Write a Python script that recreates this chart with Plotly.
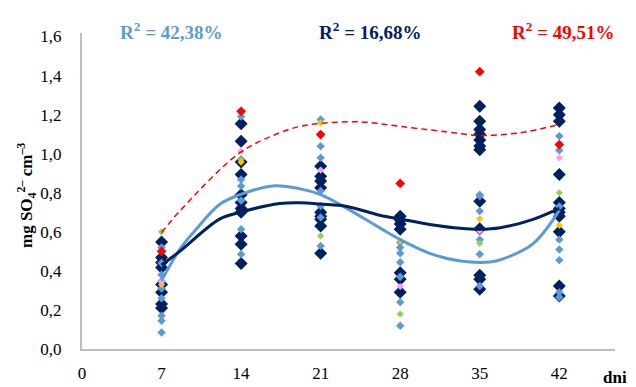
import plotly.graph_objects as go

# ---------------- data ----------------
navy_days = [7]*8 + [14]*11 + [21]*9 + [28]*7 + [35]*12 + [42]*11
navy_vals = [0.548, 0.468, 0.443, 0.417, 0.33, 0.29, 0.23, 0.21,
             1.153, 1.064, 0.957, 0.894, 0.79, 0.75, 0.72, 0.70, 0.579, 0.536, 0.438,
             0.936, 0.885, 0.86, 0.826, 0.70, 0.68, 0.664, 0.63, 0.49,
             0.68, 0.66, 0.64, 0.613, 0.39, 0.357, 0.29,
             1.243, 1.166, 1.124, 1.10, 1.07, 1.04, 1.02, 0.757, 0.616, 0.378, 0.357, 0.306,
             1.234, 1.20, 1.166, 0.894, 0.75, 0.72, 0.70, 0.68, 0.60, 0.323, 0.272]

lblue_days = [7]*9 + [14]*6 + [21]*7 + [28]*7 + [35]*6 + [42]*8
lblue_vals = [0.52, 0.44, 0.38, 0.347, 0.31, 0.26, 0.17, 0.145, 0.085,
              1.19, 0.868, 0.834, 0.76, 0.613, 0.485,
              1.175, 1.038, 0.979, 0.809, 0.732, 0.674, 0.528,
              0.546, 0.52, 0.49, 0.444, 0.37, 0.24, 0.119,
              0.79, 0.783, 0.706, 0.56, 0.485, 0.323,
              1.09, 1.018, 0.73, 0.56, 0.51, 0.455, 0.29, 0.265]

sample_days = [7, 14, 21, 28, 35, 42]
red_vals = [0.50, 1.217, 1.098, 0.848, 1.42, 1.047]
pink_vals = [0.345, 1.013, 0.916, 0.32, 0.604, 0.979]
green_vals = [0.60, 0.97, 0.579, 0.179, 0.541, 0.80]
orange_vals = [0.33, 0.957, 1.158, 0.553, 0.667, 0.633]

# trend curves
lb_trend_x = [7, 8.6, 10, 12.1, 13.9, 16.8, 19.2, 21, 23.3, 26.2, 28, 30.6, 33.3, 35.9, 37, 39.7, 42]
lb_trend_y = [0.35, 0.51, 0.61, 0.74, 0.79, 0.835, 0.82, 0.79, 0.72, 0.62, 0.56, 0.49, 0.45, 0.445, 0.46, 0.54, 0.71]
nv_trend_x = [7, 8.6, 12.1, 13.9, 17.4, 19.2, 21, 23.3, 26.2, 28, 30.6, 33.3, 35, 36.8, 39.7, 42]
nv_trend_y = [0.43, 0.50, 0.665, 0.70, 0.745, 0.749, 0.742, 0.73, 0.685, 0.665, 0.638, 0.618, 0.613, 0.621, 0.664, 0.72]
rd_trend_x = [7, 8.6, 13.9, 17.4, 19.2, 21, 24.5, 28, 33.3, 35, 38.5, 42]
rd_trend_y = [0.596, 0.706, 1.005, 1.107, 1.14, 1.155, 1.163, 1.14, 1.103, 1.093, 1.107, 1.15]

r2_texts = ["R<sup>2</sup> = 42,38%", "R<sup>2</sup> = 16,68%", "R<sup>2</sup> = 49,51%"]
x_ticks = [0, 7, 14, 21, 28, 35, 42]
y_ticks = [0.0, 0.2, 0.4, 0.6, 0.8, 1.0, 1.2, 1.4, 1.6]
y_tick_labels = ["0,0", "0,2", "0,4", "0,6", "0,8", "1,0", "1,2", "1,4", "1,6"]

NAVY = "#002060"
LBLUE = "#5B9BD5"
RED = "#FF0000"
PINK = "#FF99FF"
GREEN = "#92D050"
ORANGE = "#FFC000"
FONT = "Liberation Serif, Times New Roman, DejaVu Serif, serif"

fig = go.Figure()
fig.add_trace(go.Scatter(x=navy_days, y=navy_vals, mode="markers",
                         marker=dict(symbol="diamond", size=10, color=NAVY), showlegend=False))
fig.add_trace(go.Scatter(x=lblue_days, y=lblue_vals, mode="markers",
                         marker=dict(symbol="diamond", size=6.5, color=LBLUE), showlegend=False))
for vals, col, sz in [(green_vals, GREEN, 5.5), (orange_vals, ORANGE, 5.5),
                      (pink_vals, PINK, 5.5), (red_vals, RED, 7.5)]:
    fig.add_trace(go.Scatter(x=sample_days, y=vals, mode="markers",
                             marker=dict(symbol="diamond", size=sz, color=col), showlegend=False))

fig.add_trace(go.Scatter(x=lb_trend_x, y=lb_trend_y, mode="lines",
                         line=dict(color=LBLUE, width=3, shape="spline"), showlegend=False))
fig.add_trace(go.Scatter(x=nv_trend_x, y=nv_trend_y, mode="lines",
                         line=dict(color=NAVY, width=3, shape="spline"), showlegend=False))
fig.add_trace(go.Scatter(x=rd_trend_x, y=rd_trend_y, mode="lines",
                         line=dict(color=RED, width=1.5, dash="6px,4px", shape="spline"), showlegend=False))

L, R, T, B = 82, 21, 33, 38
W, H = 636, 387
pw = W - L - R
ph = H - T - B

fig.update_layout(
    width=W, height=H,
    margin=dict(l=L, r=R, t=T, b=B, autoexpand=False),
    paper_bgcolor="white", plot_bgcolor="white",
    font=dict(family=FONT, size=17, color="black"),
    xaxis=dict(range=[0, 46.9], tickvals=x_ticks, ticktext=[str(t) for t in x_ticks],
               showgrid=False, zeroline=False, showline=True, linecolor="#BFBFBF", linewidth=2,
               ticks="outside", ticklen=8, tickcolor="rgba(0,0,0,0)", automargin=False,
               tickfont=dict(family=FONT, size=17, color="black")),
    yaxis=dict(range=[0, 1.618], tickvals=y_ticks, ticktext=y_tick_labels,
               showgrid=False, zeroline=False, showline=True, linecolor="#BFBFBF", linewidth=2,
               ticks="outside", ticklen=15, tickcolor="rgba(0,0,0,0)", automargin=False,
               tickfont=dict(family=FONT, size=17, color="black")),
)


def px_x(px):
    return (px - L) / pw


def px_y(py):
    return ((H - B) - py) / ph


ann_cols = [LBLUE, NAVY, RED]
ann_x = [171, 370, 563]
for txt, col, xp in zip(r2_texts, ann_cols, ann_x):
    fig.add_annotation(text="<b>" + txt + "</b>", x=px_x(xp), y=px_y(31), xref="paper", yref="paper",
                       showarrow=False, font=dict(family=FONT, size=19, color=col),
                       xanchor="center", yanchor="middle")

fig.add_annotation(text="<b>mg SO<sub>4</sub><sup>2–</sup> cm<sup>–3</sup></b>",
                   x=px_x(26), y=px_y(195), xref="paper", yref="paper",
                   textangle=-90, showarrow=False, font=dict(family=FONT, size=17, color="black"),
                   xanchor="center", yanchor="middle")
fig.add_annotation(text="<b>dni</b>", x=px_x(601), y=px_y(377),
                   xref="paper", yref="paper", showarrow=False,
                   font=dict(family=FONT, size=17, color="black"), xanchor="left", yanchor="middle")

fig.write_html("out.html")
